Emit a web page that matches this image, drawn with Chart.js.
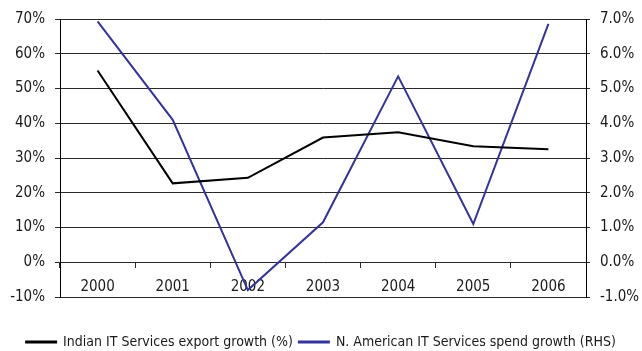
<!DOCTYPE html>
<html>
<head>
<meta charset="utf-8">
<script src="https://cdn.jsdelivr.net/npm/chart.js@4.4.1/dist/chart.umd.min.js"></script>
<style>
  html, body { margin: 0; padding: 0; background: #ffffff; }
  #wrap { width: 642px; height: 351px; position: relative; }
</style>
</head>
<body>
<div id="wrap"><canvas id="c" width="642" height="351"></canvas></div>
<script>
const years = ['2000', '2001', '2002', '2003', '2004', '2005', '2006'];
const indianExportGrowth = [55.2, 22.7, 24.3, 35.9, 37.4, 33.4, 32.5];
const naSpendGrowth = [6.93, 4.10, -0.80, 1.15, 5.35, 1.10, 6.86];
const leftTicks = { min: -10, max: 70, step: 10 };
const rightTicks = { min: -1, max: 7, step: 1 };
const seriesNames = ['Indian IT Services export growth (%)', 'N. American IT Services spend growth (RHS)'];

const FONT = '"DejaVu Sans Condensed", "Liberation Sans Narrow", "Roboto Condensed", sans-serif';
const TXT = '#1a1a1a';
const GRID = '#2a2a2a';

new Chart(document.getElementById('c'), {
  type: 'line',
  data: {
    labels: years,
    datasets: [
      {
        label: seriesNames[0],
        data: indianExportGrowth,
        yAxisID: 'y',
        borderColor: '#000000',
        backgroundColor: '#000000',
        borderWidth: 2,
        pointRadius: 0,
        tension: 0
      },
      {
        label: seriesNames[1],
        data: naSpendGrowth,
        yAxisID: 'y1',
        borderColor: '#333399',
        backgroundColor: '#333399',
        borderWidth: 2,
        pointRadius: 0,
        tension: 0
      }
    ]
  },
  options: {
    responsive: false,
    animation: false,
    devicePixelRatio: 1,
    layout: { padding: { top: 19, bottom: -8, left: 0, right: 0 } },
    plugins: {
      legend: {
        position: 'bottom',
        labels: {
          color: TXT,
          font: { family: FONT, size: 14 },
          boxWidth: 30,
          boxHeight: 1,
          padding: 6
        }
      },
      tooltip: { enabled: false }
    },
    scales: {
      x: {
        type: 'category',
        position: { y: 0 },
        offset: true,
        grid: {
          offset: true,
          drawOnChartArea: false,
          drawTicks: true,
          tickLength: 6,
          color: GRID,
          lineWidth: 1
        },
        border: { display: false },
        ticks: {
          color: TXT,
          font: { family: FONT, size: 15 },
          padding: 10,
          maxRotation: 0,
          autoSkip: false
        }
      },
      xpad: {
        type: 'category',
        position: 'bottom',
        labels: years,
        grid: { display: false },
        border: { display: false },
        ticks: { display: false },
        afterFit: s => { s.height = 32; }
      },
      y: {
        position: 'left',
        min: leftTicks.min,
        max: leftTicks.max,
        ticks: {
          stepSize: leftTicks.step,
          color: TXT,
          font: { family: FONT, size: 15 },
          padding: 10,
          callback: v => v + '%'
        },
        grid: {
          color: GRID,
          lineWidth: 1,
          tickLength: 5
        },
        border: { display: true, color: '#000000', width: 1 },
        afterFit: s => { s.width = 60; }
      },
      y1: {
        position: 'right',
        min: rightTicks.min,
        max: rightTicks.max,
        ticks: {
          stepSize: rightTicks.step,
          color: TXT,
          font: { family: FONT, size: 15 },
          padding: 10,
          callback: v => v.toFixed(1) + '%'
        },
        grid: {
          drawOnChartArea: false,
          color: GRID,
          lineWidth: 1,
          tickLength: 4
        },
        border: { display: true, color: '#000000', width: 1 },
        afterFit: s => { s.width = 56; }
      }
    }
  }
});
</script>
</body>
</html>
